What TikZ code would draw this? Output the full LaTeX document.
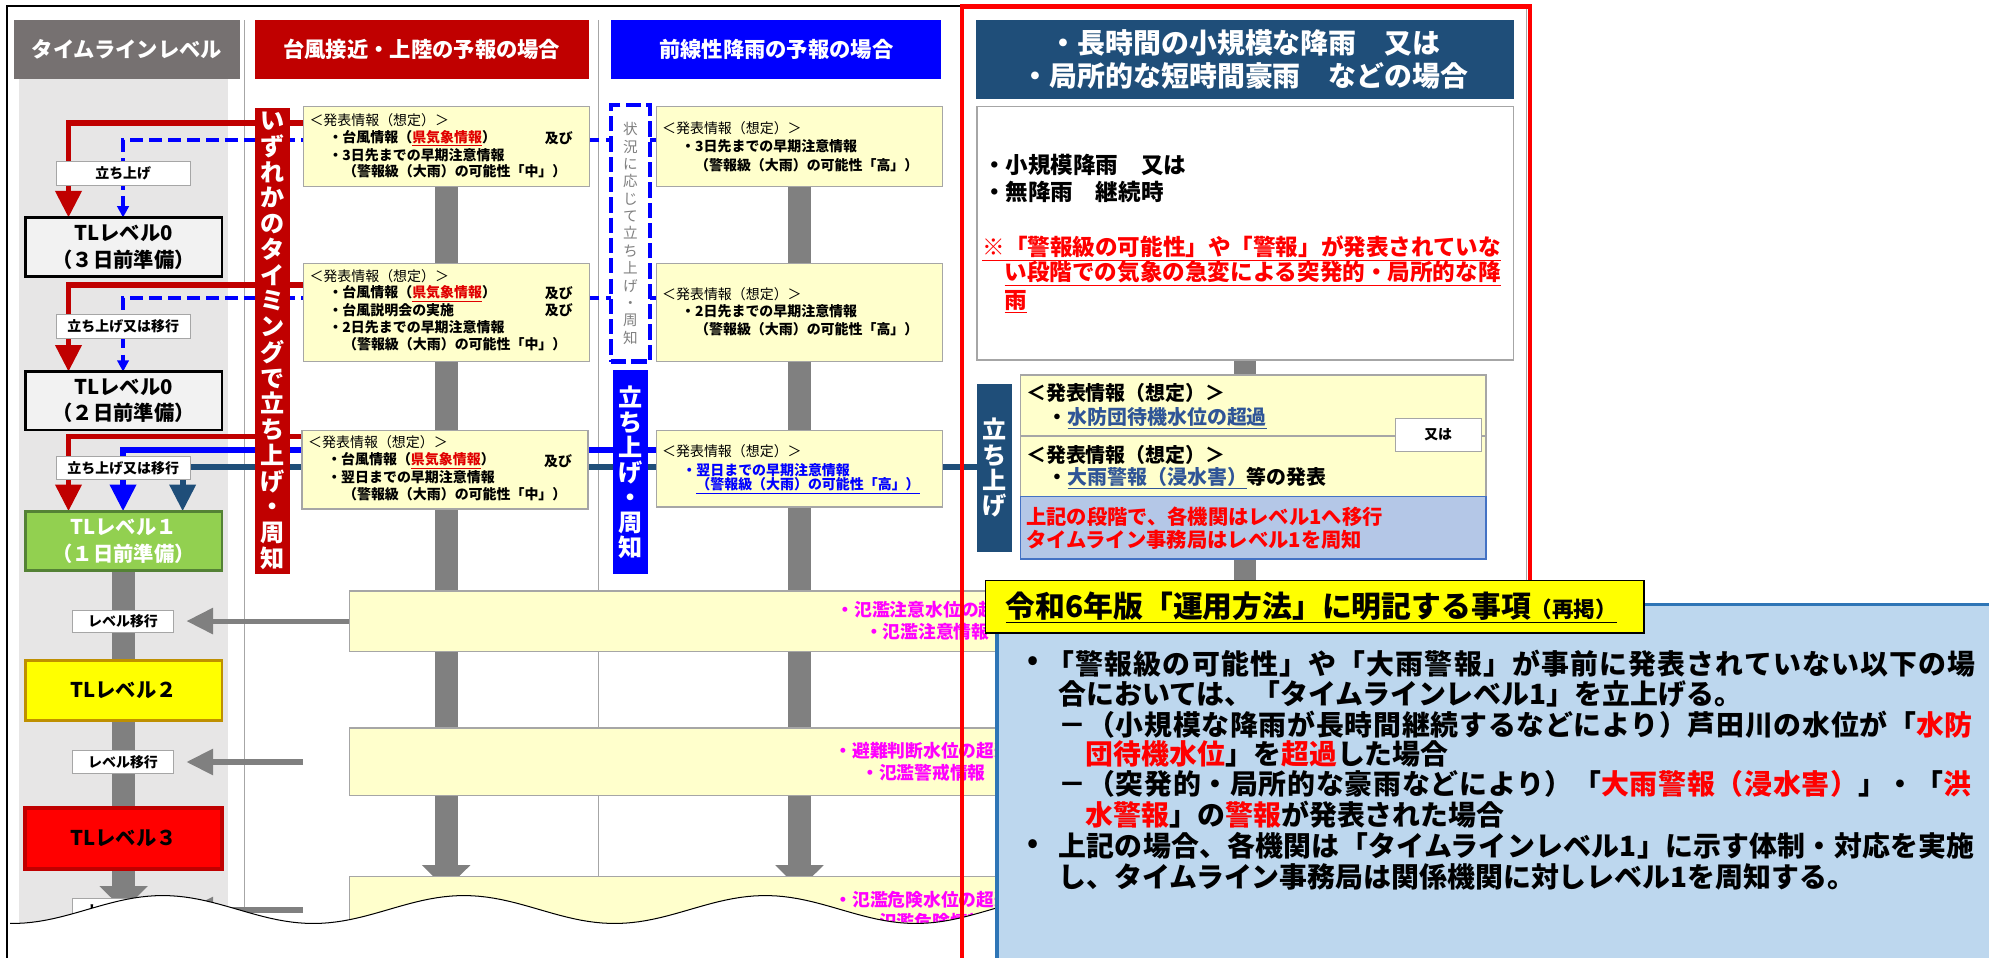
\documentclass[tikz,border=0pt]{standalone}
\usepackage{fontspec}
\setmainfont{Noto Sans CJK JP}
\usetikzlibrary{arrows.meta}
\definecolor{hgray}{HTML}{767171}
\definecolor{hred}{HTML}{C00000}
\definecolor{hblue}{HTML}{0000FF}
\definecolor{navy}{HTML}{1F4E79}
\definecolor{lyel}{HTML}{FFFFCC}
\definecolor{bgray}{HTML}{A6A6A6}
\definecolor{colbg}{HTML}{E7E6E6}
\definecolor{tlgray}{HTML}{F2F2F2}
\definecolor{tlgreen}{HTML}{92D050}
\definecolor{tlgreenb}{HTML}{548235}
\definecolor{tlyel}{HTML}{FFFF00}
\definecolor{tlyelb}{HTML}{BF9000}
\definecolor{tlred}{HTML}{FF0000}
\definecolor{barg}{HTML}{808080}
\definecolor{pnlc}{HTML}{BDD7EE}
\definecolor{pnlb}{HTML}{2E75B6}
\definecolor{bbx}{HTML}{B4C7E7}
\definecolor{bbxb}{HTML}{4472C4}
\definecolor{pinkt}{HTML}{FF00FF}
\definecolor{lnk}{HTML}{2F5597}
\definecolor{kenred}{HTML}{E00000}
\definecolor{rtxt}{HTML}{FF0000}
\definecolor{vgray}{HTML}{7F7F7F}
\pgfdeclarelayer{bgL}
\pgfdeclarelayer{lineL}
\pgfdeclarelayer{waveL}
\pgfdeclarelayer{topL}
\pgfsetlayers{bgL,lineL,main,waveL,topL}
\newcommand\fsz[2]{\fontsize{#1}{#2}\selectfont}
\newcounter{tn}
\newcommand\tput[4][]{\stepcounter{tn}\edef\tnm{t\arabic{tn}}\node[tx,#1] (\tnm) at (#2,#3) {#4};}
\newcommand\rnode[7]{\node[#1,minimum width={#5-#3},minimum height={#6-#4}] (#2) at ({(#3+#5)/2},{(#4+#6)/2}) {#7};}
\newcommand\ken[1]{\textcolor{kenred}{\underline{#1}}}
\newcommand\rd[1]{\textcolor{rtxt}{#1}}
\newcommand\spread[2]{{\addfontfeature{LetterSpace=#1}#2}}
\begin{document}
\begin{tikzpicture}[x=1pt,y=-1pt,
 tx/.style={inner sep=0pt,outer sep=0pt,anchor=west,font=\fsz{11}{13}\bfseries},
 bx/.style={inner sep=0pt,outer sep=0pt},
 hdr/.style={bx,text=white,font=\fsz{16.8}{20}\bfseries},
 ybox/.style={bx,draw=bgray,line width=1pt,fill=lyel},
 lab/.style={bx,draw=bgray,line width=0.8pt,fill=white,font=\fsz{11}{13}\bfseries},
 tlbase/.style={bx,line width=2.3pt,align=center,font=\fsz{16}{21}\bfseries},
 tl0/.style={tlbase,fill=tlgray,draw=black},
 tlg/.style={tlbase,fill=tlgreen,draw=tlgreenb,text=white},
 tly/.style={tlbase,fill=tlyel,draw=tlyelb},
 tlr/.style={tlbase,fill=tlred,draw=hred,line width=3pt},
 vbar/.style={bx,align=center,text=white,font=\fsz{19}{20.3}\bfseries},
 dbox/.style={bx,draw=hblue,line width=3.2pt,dash pattern=on 12pt off 4pt,fill=white,align=center,text=vgray,font=\fsz{11.5}{13.7}},
 wbox/.style={bx,draw=bgray,line width=1.2pt,fill=white},
 bbox/.style={bx,draw=bbxb,line width=1pt,fill=bbx},
 panel/.style={bx,draw=pnlb,line width=2.5pt,fill=pnlc},
 ttlbox/.style={bx,draw=black,line width=1.2pt,fill=tlyel},
 sepln/.style={draw=bgray,line width=0.8pt},
 redln/.style={draw=hred,line width=4.5pt},
 blueln/.style={draw=hblue,line width=4.5pt},
 bluedash/.style={draw=hblue,line width=3pt,dash pattern=on 10pt off 5pt},
 navyln/.style={draw=navy,line width=4.5pt},
 gbar/.style={draw=barg,line width=18pt},
 garrow/.style={draw=barg,line width=4pt,-{Triangle[width=20pt,length=21pt]}},
 bigtip/.style={-{Triangle[width=20pt,length=21pt]}},
 smalltip/.style={-{Triangle[width=9pt,length=9pt]}},
 bartip/.style={-{Triangle[width=37pt,length=19pt]}}
]
\useasboundingbox (0,0) rectangle (1568,755);
% ---------- background layer
\begin{pgfonlayer}{bgL}
\fill[white] (0,0) rectangle (1568,755);
\fill[colbg] (15,62) rectangle (180,760);
\draw[sepln] (193,16) -- (193,760);
\draw[sepln] (471.6,16) -- (471.6,760);
\draw[sepln] (1203.5,5) -- (1203.5,760);
\end{pgfonlayer}
% ---------- headers
\rnode{hdr,fill=hgray}{h1}{11}{16}{189}{62}{タイムラインレベル}
\rnode{hdr,fill=hred}{h2}{201}{16}{464}{62}{台風接近・上陸の予報の場合}
\rnode{hdr,fill=hblue}{h3}{482}{16}{742}{62}{前線性降雨の予報の場合}
\rnode{hdr,fill=navy,align=center,font=\fsz{22}{26}\bfseries}{h4}{769.5}{15.8}{1193.5}{78}{・長時間の小規模な降雨　又は\\・局所的な短時間豪雨　などの場合}
% ---------- timeline level boxes
\rnode{tl0}{tla}{20}{171.5}{175}{218}{TLレベル0\\（３日前準備）}
\rnode{tl0}{tlb}{20}{293}{175}{339}{TLレベル0\\（２日前準備）}
\rnode{tlg}{tlc}{20}{403}{175}{450}{TLレベル１\\（１日前準備）}
\rnode{tly}{tld}{20}{521}{175}{568}{TLレベル２}
\rnode{tlr}{tle}{20}{637}{175}{685}{TLレベル３}
% ---------- labels
\rnode{lab}{la}{44.3}{127.5}{150}{146.4}{立ち上げ}
\rnode{lab}{lb}{44.3}{248}{150}{266.7}{立ち上げ又は移行}
\rnode{lab}{lc}{44.3}{360}{150}{378}{立ち上げ又は移行}
\rnode{lab}{ma}{57}{481}{137}{499}{レベル移行}
\rnode{lab}{mb}{57}{592}{137}{610}{レベル移行}
\rnode{lab}{mc}{57}{708}{137}{727}{レベル移行}
% ---------- typhoon column
\rnode{ybox}{ca}{239}{84}{464.5}{147}{}
\rnode{ybox}{cb}{239}{208}{464.5}{285}{}
\rnode{ybox}{cc}{238}{339.5}{463.6}{401.3}{}
\tput[font=\fsz{11}{13}]{244}{94.6}{＜発表情報（想定）＞}
\tput{259}{109}{・台風情報（\ken{県気象情報}）}
\tput{429.5}{109}{及び}
\tput{259}{122}{・3日先までの早期注意情報}
\tput{270.5}{135}{（警報級（大雨）の可能性「中」）}
\tput[font=\fsz{11}{13}]{244}{218}{＜発表情報（想定）＞}
\tput{259}{231.5}{・台風情報（\ken{県気象情報}）}
\tput{429.5}{231.5}{及び}
\tput{259}{244.8}{・台風説明会の実施}
\tput{429.5}{244.8}{及び}
\tput{259}{258}{・2日先までの早期注意情報}
\tput{270.5}{271.3}{（警報級（大雨）の可能性「中」）}
\tput[font=\fsz{11}{13}]{243}{348.7}{＜発表情報（想定）＞}
\tput{258}{363.2}{・台風情報（\ken{県気象情報}）}
\tput{429}{363.2}{及び}
\tput{258}{376.3}{・翌日までの早期注意情報}
\tput{270.5}{389.7}{（警報級（大雨）の可能性「中」）}
\rnode{vbar,fill=hred}{rb}{201}{85}{229}{452.6}{い\\ず\\れ\\か\\の\\タ\\イ\\ミ\\ン\\グ\\で\\立\\ち\\上\\げ\\・\\周\\知}
% ---------- frontal rain column
\rnode{ybox}{da}{517.5}{84}{743}{147}{}
\rnode{ybox}{db}{517.5}{208}{743}{285}{}
\rnode{ybox}{dc}{517.5}{339.5}{743}{399.6}{}
\tput[font=\fsz{11}{13}]{522}{101}{＜発表情報（想定）＞}
\tput{537}{115.6}{・3日先までの早期注意情報}
\tput{548}{130}{（警報級（大雨）の可能性「高」）}
\tput[font=\fsz{11}{13}]{522}{231.8}{＜発表情報（想定）＞}
\tput{537}{245.7}{・2日先までの早期注意情報}
\tput{548}{259.5}{（警報級（大雨）の可能性「高」）}
\tput[font=\fsz{11}{13}]{522}{355.3}{＜発表情報（想定）＞}
\tput[text=hblue]{538}{370.5}{・翌日までの早期注意情報}
\tput[text=hblue]{549}{383}{\underline{（警報級（大雨）の可能性「高」）}}
\rnode{dbox}{dsh}{481.7}{83}{512.4}{285}{状\\況\\に\\応\\じ\\て\\立\\ち\\上\\げ\\・\\周\\知}
\rnode{vbar,fill=hblue,font=\fsz{19}{19.7}\bfseries}{bb}{483.3}{292}{510.7}{452.5}{立\\ち\\上\\げ\\・\\周\\知}
% ---------- right case column
\rnode{wbox}{wbx}{770}{84}{1193}{284}{}
\tput[font=\fsz{17.8}{20}\bfseries]{775}{130}{・小規模降雨　又は}
\tput[font=\fsz{17.8}{20}\bfseries]{775}{151}{・無降雨　継続時}
\tput[text=rtxt,font=\fsz{17.8}{20}\bfseries]{774.5}{195.8}{\underline{※「警報級の可能性」や「警報」が発表されていな}}
\tput[text=rtxt,font=\fsz{17.8}{20}\bfseries]{792}{215.5}{\underline{い段階での気象の急変による突発的・局所的な降}}
\tput[text=rtxt,font=\fsz{17.8}{20}\bfseries]{792}{237.8}{\underline{雨}}
\rnode{ybox}{ra}{804.5}{295.6}{1171.5}{343.7}{}
\rnode{ybox}{rbx}{804.5}{343.7}{1171.5}{391.5}{}
\rnode{bbox}{rc}{804.5}{391.5}{1171.5}{440.7}{}
\rnode{lab}{mata}{1100}{330}{1167.6}{356}{又は}
\tput[font=\fsz{15.7}{18}\bfseries]{809}{310}{＜発表情報（想定）＞}
\tput[font=\fsz{15.7}{18}\bfseries]{826}{329.8}{・\textcolor{lnk}{\underline{水防団待機水位の超過}}}
\tput[font=\fsz{15.7}{18}\bfseries]{809}{358.7}{＜発表情報（想定）＞}
\tput[font=\fsz{15.7}{18}\bfseries]{826}{377}{・\textcolor{lnk}{\underline{大雨警報（浸水害）}}等の発表}
\tput[text=rtxt,font=\fsz{16}{18}\bfseries]{809}{407.3}{上記の段階で、各機関はレベル1へ移行}
\tput[text=rtxt,font=\fsz{16}{18}\bfseries]{809}{425.7}{タイムライン事務局はレベル1を周知}
\rnode{vbar,fill=navy,font=\fsz{19}{20}\bfseries}{ru}{770}{302.7}{797.5}{435}{立\\ち\\上\\げ}
% ---------- wide river-level boxes
\rnode{ybox}{wa}{275.5}{465.8}{1000}{513.5}{}
\rnode{ybox}{wb}{275.5}{574}{1000}{627}{}
\rnode{ybox}{wc}{275.5}{691}{1000}{770}{}
\tput[text=pinkt,font=\fsz{14}{16}\bfseries]{659.6}{480.5}{・氾濫注意水位の超過}
\tput[text=pinkt,font=\fsz{14}{16}\bfseries]{682}{498}{・氾濫注意情報}
\tput[text=pinkt,font=\fsz{14}{16}\bfseries]{658}{592}{・避難判断水位の超過}
\tput[text=pinkt,font=\fsz{14}{16}\bfseries]{679}{609}{・氾濫警戒情報}
\tput[text=pinkt,font=\fsz{14}{16}\bfseries]{658}{709.6}{・氾濫危険水位の超過}
\tput[text=pinkt,font=\fsz{14}{16}\bfseries]{679}{727}{・氾濫危険情報}
% ---------- wave cut
\begin{pgfonlayer}{waveL}
\fill[white] plot[domain=8:800,samples=140] (\x,{717+11*cos(1.51579*(\x-247))}) -- (800,770) -- (8,770) -- cycle;
\draw[line width=0.8pt] plot[domain=8:800,samples=140] (\x,{717+11*cos(1.51579*(\x-247))});
\end{pgfonlayer}
% ---------- top layer: frames and summary panel
\begin{pgfonlayer}{topL}
\draw[line width=1.5pt] (5.5,770) -- (5.5,4.7) -- (758,4.7);
\draw[draw=rtxt,line width=3.5pt] (758.5,5) rectangle (1206,780);
\rnode{panel}{pnl}{786}{476.5}{1590}{780}{}
\rnode{ttlbox}{ttl}{777}{457.8}{1296}{499}{}
\tput[font=\fsz{23.5}{26}\bfseries]{793}{478.6}{\underline{令和6年版「運用方法」に明記する事項{\fsz{17}{18}（再掲）}}}
\tput[anchor=center,font=\fsz{22}{24}\bfseries]{814.6}{523}{•}
\tput[font=\fsz{22}{24}\bfseries]{825}{523}{\spread{4.3}{「警報級の可能性」や「大雨警報」が事前に発表されていない以下の場}}
\tput[font=\fsz{22}{24}\bfseries]{834.5}{547}{合においては、「タイムラインレベル1」を立上げる。}
\tput[font=\fsz{22}{24}\bfseries]{834.5}{571}{\spread{2.6}{－（小規模な降雨が長時間継続するなどにより）芦田川の水位が「\rd{水防}}}
\tput[font=\fsz{22}{24}\bfseries]{856}{594.5}{\rd{団待機水位}」を\rd{超過}した場合}
\tput[font=\fsz{22}{24}\bfseries]{834.5}{618}{\spread{2.6}{－（突発的・局所的な豪雨などにより）「\rd{大雨警報（浸水害）}」・「\rd{洪}}}
\tput[font=\fsz{22}{24}\bfseries]{856}{642}{\rd{水警報}」の\rd{警報}が発表された場合}
\tput[anchor=center,font=\fsz{22}{24}\bfseries]{814.6}{667}{•}
\tput[font=\fsz{22}{24}\bfseries]{834.5}{667}{\spread{0.9}{上記の場合、各機関は「タイムラインレベル1」に示す体制・対応を実施}}
\tput[font=\fsz{22}{24}\bfseries]{834.5}{691}{し、タイムライン事務局は関係機関に対しレベル1を周知する。}
\end{pgfonlayer}
% ---------- connectors (under boxes)
\begin{pgfonlayer}{lineL}
\coordinate (tipy) at (0,701);
\coordinate (tipl) at (0,717.5);
\draw[gbar,bartip] (ca.south) -- (ca.south |- tipy);
\draw[gbar,bartip] (da.south) -- (da.south |- tipy);
\draw[gbar,bartip] (tlc.south) -- (tlc.south |- tipl);
\draw[gbar] (wbx.south) -- (wbx.south |- ttl.north);
\coordinate (ta) at (147,489.6);
\coordinate (sb) at (239,600.7);
\coordinate (tb) at (147,600.7);
\coordinate (sc) at (239,717.4);
\coordinate (tc) at (147,717.4);
\draw[garrow] (wa.west |- ta) -- (ta);
\draw[garrow] (sb) -- (tb);
\draw[garrow] (sc) -- (tc);
\coordinate (r1) at (54,97.2);
\coordinate (b1) at (97,110.4);
\coordinate (r2) at (54,224.7);
\coordinate (b2) at (97,235);
\coordinate (r3) at (54,344);
\coordinate (b3) at (97,354.8);
\coordinate (d3) at (144,368);
\draw[navyln,bigtip] (ru.west |- d3) -- (d3) -- (d3 |- tlc.north);
\draw[blueln,bigtip] (dc.west |- b3) -- (b3) -- (b3 |- tlc.north);
\draw[redln,bigtip] (cc.west |- r3) -- (r3) -- (r3 |- tlc.north);
\draw[bluedash,smalltip] (db.west |- b2) -- (b2) -- (b2 |- tlb.north);
\draw[redln,bigtip] (cb.west |- r2) -- (r2) -- (r2 |- tlb.north);
\draw[bluedash,smalltip] (da.west |- b1) -- (b1) -- (b1 |- tla.north);
\draw[redln,bigtip] (ca.west |- r1) -- (r1) -- (r1 |- tla.north);
\end{pgfonlayer}
\end{tikzpicture}
\end{document}
